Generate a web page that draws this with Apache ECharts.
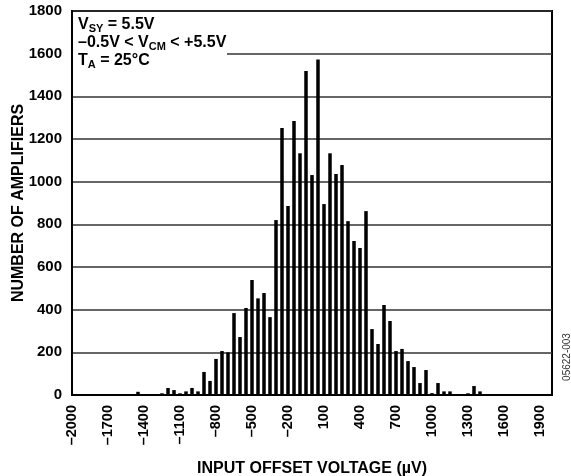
<!DOCTYPE html>
<html>
<head>
<meta charset="utf-8">
<script src="https://cdn.jsdelivr.net/npm/echarts@6/dist/echarts.min.js"></script>
<style>
  html, body { margin: 0; padding: 0; background: #fff; }
  #chart { width: 571px; height: 476px; }
</style>
</head>
<body>
<div id="chart"></div>
<script>
// bin centres (µV) and number of amplifiers in each bin
var binCenters = [-1450, -1250, -1200, -1150, -1100, -1050, -1000, -950, -900, -850,
    -800, -750, -700, -650, -600, -550, -500, -450, -400, -350,
    -300, -250, -200, -150, -100, -50, 0, 50, 100, 150,
    200, 250, 300, 350, 400, 450, 500, 550, 600, 650,
    700, 750, 800, 850, 900, 950, 1000, 1050, 1100, 1150,
    1300, 1350, 1400];
var counts = [15, 8, 33, 23, 8, 17, 33, 17, 108, 66,
    169, 206, 200, 384, 272, 408, 539, 453, 478, 365,
    820, 1251, 886, 1284, 1133, 1519, 1031, 1573, 895, 1133,
    1036, 1078, 815, 722, 689, 862, 309, 239, 422, 347,
    206, 216, 159, 131, 56, 117, 9, 56, 17, 17,
    8, 42, 17];
var noteLines = ['V_SY = 5.5V', '–0.5V < V_CM < +5.5V', 'T_A = 25°C'];

var font = '"Liberation Sans", Arial, sans-serif';

var barData = [];
for (var i = 0; i < binCenters.length; i++) {
    barData.push([binCenters[i], counts[i]]);
}

// turn "X_SUB rest" into rich text with a subscript
function richLine(s) {
    var m = s.match(/^(.*?)_([A-Z]+)(.*)$/);
    return '{v|' + m[1] + '}{s|' + m[2] + '}{v|' + m[3] + '}';
}

var chartDom = document.getElementById('chart');
var myChart = echarts.init(chartDom);
var option;

option = {
    animation: false,
    backgroundColor: '#fff',
    grid: {
        left: 72,
        right: 19,
        top: 11,
        bottom: 81,
        show: true,
        borderColor: '#000',
        borderWidth: 2,
        containLabel: false,
        outerBoundsMode: 'none'
    },
    xAxis: {
        type: 'value',
        min: -2000,
        max: 2000,
        interval: 300,
        name: 'INPUT OFFSET VOLTAGE (µV)',
        nameLocation: 'middle',
        nameGap: 74,
        nameMoveOverlap: false,
        nameTextStyle: {
            fontFamily: font, fontWeight: 'bold', fontSize: 16, color: '#000',
            align: 'center', verticalAlign: 'middle'
        },
        axisLine: { lineStyle: { color: '#000', width: 2 } },
        axisTick: { show: false },
        splitLine: { show: false },
        axisLabel: {
            rotate: 90,
            margin: 10,
            showMaxLabel: false,
            fontFamily: font,
            fontWeight: 'bold',
            fontSize: 14.5,
            color: '#000',
            formatter: function (v) { return String(v).replace('-', '–'); }
        }
    },
    yAxis: {
        type: 'value',
        min: 0,
        max: 1800,
        interval: 200,
        name: 'NUMBER OF AMPLIFIERS',
        nameLocation: 'middle',
        nameGap: 53,
        nameRotate: 90,
        nameMoveOverlap: false,
        nameTextStyle: {
            fontFamily: font, fontWeight: 'bold', fontSize: 16, color: '#000',
            align: 'center', verticalAlign: 'middle'
        },
        axisLine: { show: true, onZero: false, lineStyle: { color: '#000', width: 2 } },
        axisTick: { show: false },
        splitLine: { lineStyle: { color: '#333', width: 1.5 } },
        axisLabel: {
            margin: 10,
            fontFamily: font,
            fontWeight: 'bold',
            fontSize: 15,
            color: '#000',
            formatter: function (v) { return String(v); }
        }
    },
    graphic: [
        {
            type: 'rect',
            z: 100,
            shape: { x: 73, y: 13, width: 154, height: 53 },
            style: { fill: '#fff' }
        },
        {
            type: 'text',
            z: 101,
            x: 78,
            y: 16,
            style: {
                text: noteLines.map(richLine).join('\n'),
                fill: '#000',
                rich: {
                    v: { fontFamily: font, fontWeight: 'bold', fontSize: 16, lineHeight: 18 },
                    s: { fontFamily: font, fontWeight: 'bold', fontSize: 11, lineHeight: 9, verticalAlign: 'bottom' }
                }
            }
        },
        {
            type: 'text',
            z: 101,
            x: 567,
            y: 357,
            rotation: Math.PI / 2,
            style: {
                text: '05622-003',
                fontFamily: font,
                fontSize: 10,
                fill: '#333',
                align: 'center',
                verticalAlign: 'middle'
            }
        }
    ],
    series: [{
        type: 'bar',
        data: barData,
        barWidth: 3.5,
        itemStyle: { color: '#000' }
    }]
};

option && myChart.setOption(option);
</script>
</body>
</html>
